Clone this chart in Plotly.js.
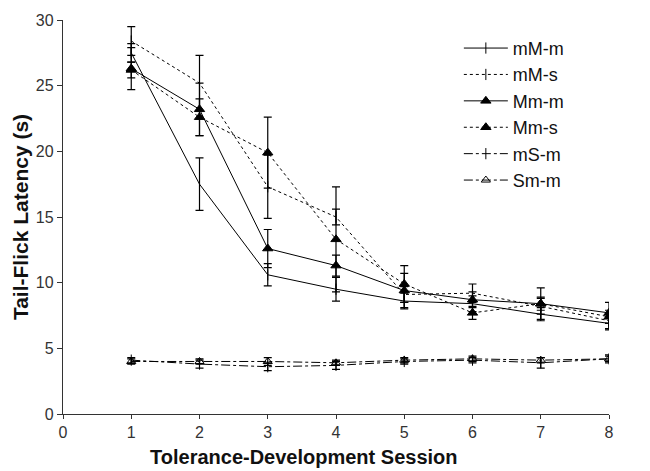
<!DOCTYPE html>
<html>
<head>
<meta charset="utf-8">
<script src="https://cdn.plot.ly/plotly-3.0.1.min.js"></script>
<style>html,body{margin:0;padding:0;background:#fff;}#chart{width:650px;height:471px;}</style>
</head>
<body>
<div id="chart"></div>
<script>
const sessions = [1, 2, 3, 4, 5, 6, 7, 8];

const mMm = [27.5, 17.5, 10.6, 9.5, 8.6, 8.4, 7.6, 6.9];
const mMm_err = [0.7, 2.0, 0.85, 0.9, 0.6, 0.6, 0.5, 0.5];

const mMs = [28.4, 25.2, 17.3, 15.0, 9.1, 9.2, 8.2, 7.1];
const mMs_err = [1.1, 2.1, 2.4, 0.6, 0.6, 0.7, 0.6, 0.6];

const Mmm = [26.3, 23.2, 12.6, 11.3, 9.4, 8.7, 8.4, 7.7];
const Mmm_err = [1.6, 2.0, 1.45, 0.8, 1.3, 0.6, 0.5, 0.8];

const Mms = [26.2, 22.6, 19.9, 13.3, 9.9, 7.7, 8.4, 7.4];
const Mms_err = [0.6, 1.4, 2.7, 4.0, 1.4, 0.5, 1.2, 0.5];

const mSm = [4.1, 3.8, 3.6, 3.7, 4.0, 4.1, 3.9, 4.2];
const mSm_err = [0.2, 0.3, 0.3, 0.3, 0.2, 0.2, 0.4, 0.3];

const Smm = [4.0, 4.0, 4.0, 3.9, 4.1, 4.2, 4.1, 4.2];
const Smm_err = [0.2, 0.2, 0.3, 0.2, 0.2, 0.2, 0.2, 0.2];

const names = ['mM-m', 'mM-s', 'Mm-m', 'Mm-s', 'mS-m', 'Sm-m'];
const xTitle = 'Tolerance-Development Session';
const yTitle = 'Tail-Flick Latency (s)';

function tr(name, y, err, dash, symbol, size) {
  return {
    x: sessions, y: y, name: name, type: 'scatter', mode: 'lines+markers',
    line: {color: '#000', width: 1, dash: dash},
    marker: {symbol: symbol, size: size, color: '#000', line: {color: '#000', width: 1}},
    error_y: {type: 'data', array: err, visible: true, color: '#000', thickness: 1.2, width: 4}
  };
}

const data = [
  tr(names[0], mMm, mMm_err, 'solid', 'line-ns', 8),
  tr(names[1], mMs, mMs_err, 'dot', 'line-ns', 8),
  tr(names[2], Mmm, Mmm_err, 'solid', 'triangle-up', 9),
  tr(names[3], Mms, Mms_err, 'dot', 'triangle-up', 9),
  tr(names[4], mSm, mSm_err, 'dashdot', 'line-ns', 8),
  tr(names[5], Smm, Smm_err, 'dashdot', 'triangle-up-open', 8)
];

const layout = {
  width: 650, height: 471,
  margin: {l: 63, r: 41, t: 20, b: 57},
  paper_bgcolor: '#fff', plot_bgcolor: '#fff',
  font: {family: 'Liberation Sans, Arial, sans-serif', color: '#222', size: 16},
  showlegend: true,
  legend: {x: 0.725, y: 0.975, xanchor: 'left', yanchor: 'top', itemwidth: 44,
           font: {size: 18, color: '#111'}, bgcolor: 'rgba(0,0,0,0)', tracegroupgap: 0},
  xaxis: {
    range: [0, 8], dtick: 1, tick0: 0, showgrid: false, zeroline: false,
    showline: true, linecolor: '#333', linewidth: 1.2,
    ticks: 'outside', ticklen: 4, tickcolor: '#333',
    tickfont: {size: 16, color: '#333'}
  },
  yaxis: {
    range: [0, 30], dtick: 5, tick0: 0, showgrid: false, zeroline: false,
    showline: true, linecolor: '#333', linewidth: 1.2,
    ticks: 'outside', ticklen: 5, tickcolor: '#333',
    tickfont: {size: 16, color: '#333'},
    title: {text: '<b>' + yTitle + '</b>', font: {size: 21, color: '#111'}, standoff: 1}
  },
  annotations: [{
    text: '<b>' + xTitle + '</b>', xref: 'paper', yref: 'paper',
    x: 0.441, y: -0.142, xanchor: 'center', yanchor: 'bottom', showarrow: false,
    font: {size: 20, color: '#111'}
  }]
};

Plotly.newPlot('chart', data, layout, {staticPlot: true, displayModeBar: false});
</script>
</body>
</html>
